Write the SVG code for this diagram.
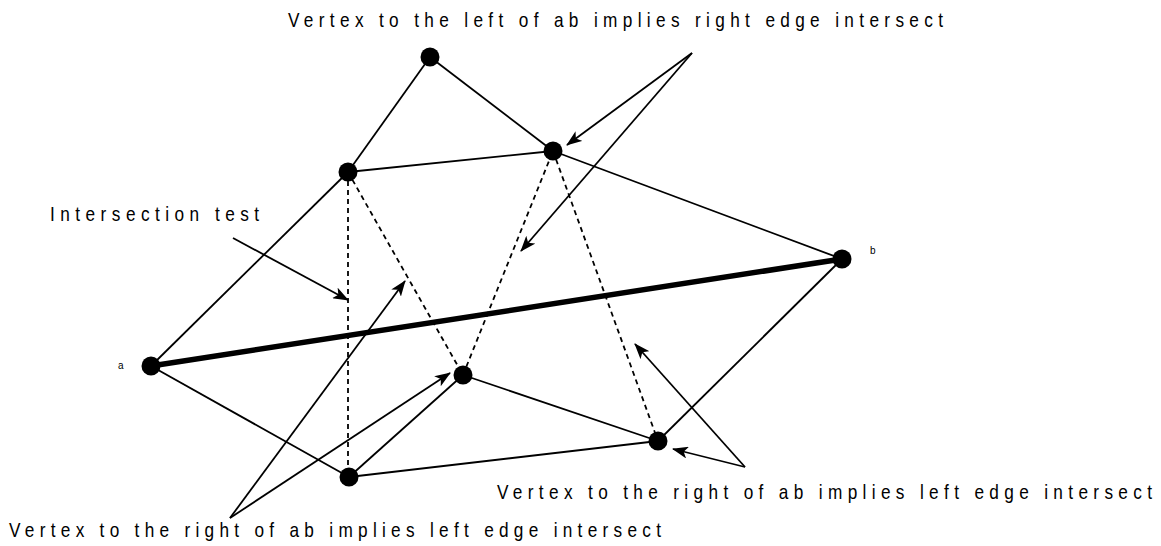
<svg xmlns="http://www.w3.org/2000/svg" width="1161" height="546" viewBox="0 0 1161 546">
<style>
.e{stroke:#000;stroke-width:1.8;fill:none}
.d{stroke:#000;stroke-width:1.8;fill:none;stroke-dasharray:5,4}
.t{stroke:#000;stroke-width:5.5;fill:none}
.ar{stroke:#000;stroke-width:1.8;fill:none;marker-end:url(#ah)}
.n{fill:#000}
.lbl{font-family:"Liberation Sans",Arial,sans-serif;font-size:21px;fill:#000}
.sm{font-family:"Liberation Sans",Arial,sans-serif;font-size:10px;fill:#000}
</style>
<defs>
<marker id="ah" viewBox="0 0 16 12" refX="15" refY="6" markerWidth="16" markerHeight="12" markerUnits="userSpaceOnUse" orient="auto">
<path d="M0,0 L16,6 L0,12 L4,6 z" fill="#000"/>
</marker>
</defs>
<g id="connectors">
<line class="e" x1="430" y1="57" x2="348" y2="172"/>
<line class="e" x1="430" y1="57" x2="553" y2="151"/>
<line class="e" x1="348" y1="172" x2="553" y2="151"/>
<line class="e" x1="348" y1="172" x2="151" y2="366"/>
<line class="e" x1="553" y1="151" x2="842" y2="259"/>
<line class="t" x1="151" y1="366" x2="842" y2="259"/>
<line class="e" x1="151" y1="366" x2="349" y2="477"/>
<line class="e" x1="349" y1="477" x2="463" y2="375"/>
<line class="e" x1="463" y1="375" x2="658" y2="441"/>
<line class="e" x1="349" y1="477" x2="658" y2="441"/>
<line class="e" x1="658" y1="441" x2="842" y2="259"/>
<line class="d" x1="348" y1="172" x2="348" y2="477"/>
<line class="d" x1="348" y1="172" x2="463" y2="375"/>
<line class="d" x1="463" y1="375" x2="553" y2="151"/>
<line class="d" x1="553" y1="151" x2="658" y2="441"/>
<line class="ar" x1="233" y1="238" x2="348" y2="300"/>
<line class="ar" x1="692" y1="53" x2="567" y2="145"/>
<line class="ar" x1="692" y1="53" x2="521" y2="251"/>
<line class="ar" x1="230" y1="518" x2="405" y2="281"/>
<line class="ar" x1="230" y1="518" x2="450" y2="373"/>
<line class="ar" x1="745" y1="467" x2="635" y2="344"/>
<line class="ar" x1="745" y1="467" x2="673" y2="449"/>
</g>
<g id="node-top"><circle class="n" cx="430" cy="57" r="9.5"/></g>
<g id="node-p1"><circle class="n" cx="348" cy="172" r="9.5"/></g>
<g id="node-p2"><circle class="n" cx="553" cy="151" r="9.5"/></g>
<g id="node-a"><circle class="n" cx="151" cy="366" r="9.5"/><text class="sm" x="118" y="369">a</text></g>
<g id="node-b"><circle class="n" cx="842" cy="259" r="9.5"/><text class="sm" x="870" y="254">b</text></g>
<g id="node-q1"><circle class="n" cx="463" cy="375" r="9.5"/></g>
<g id="node-q2"><circle class="n" cx="349" cy="477" r="9.5"/></g>
<g id="node-q3"><circle class="n" cx="658" cy="441" r="9.5"/></g>
<g id="labels" transform="scale(0.82,1)">
<text class="lbl" x="351.2" y="27" textLength="798.8" lengthAdjust="spacing">Vertex to the left of ab implies right edge intersect</text>
<text class="lbl" x="61" y="221" textLength="254.9" lengthAdjust="spacing">Intersection test</text>
<text class="lbl" x="606.1" y="499" textLength="798.8" lengthAdjust="spacing">Vertex to the right of ab implies left edge intersect</text>
<text class="lbl" x="11" y="537" textLength="795.1" lengthAdjust="spacing">Vertex to the right of ab implies left edge intersect</text>
</g>
</svg>
